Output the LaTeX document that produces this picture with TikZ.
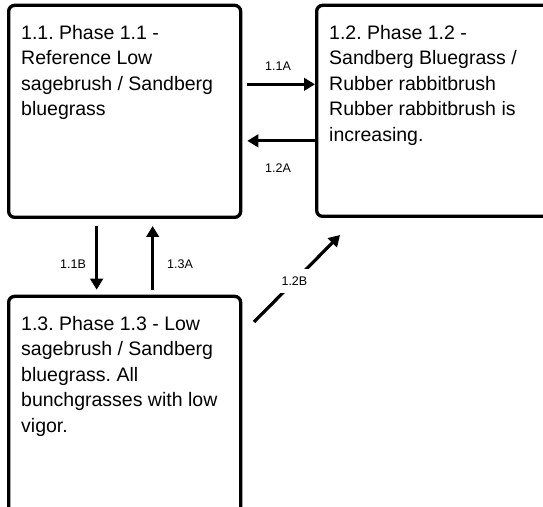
\documentclass[tikz,border=0pt]{standalone}
\usepackage{fontspec}
\setmainfont{Liberation Sans}
\usetikzlibrary{arrows.meta}
\frenchspacing
\begin{document}
\begin{tikzpicture}[x=1pt,y=1pt,
  phasebox/.style={draw=black, line width=3.3pt, rounded corners=6pt, inner sep=0pt},
  phasetext/.style={anchor=north west, inner sep=0pt, align=left, font=\fontsize{19.5}{25.5}\selectfont},
  trans/.style={line width=3.2pt, -{Triangle[length=11pt,width=12.5pt]}},
  tlabel/.style={font=\fontsize{12.5}{13}\selectfont, inner sep=1.5pt}]
\useasboundingbox (0,0) rectangle (543,506);
\clip (0,0) rectangle (543,506);
% boxes
\node[phasebox, minimum width=232pt, minimum height=212pt, anchor=south west] (b1) at (7,287) {};
\node[phasebox, minimum width=250pt, minimum height=211pt, anchor=south west] (b2) at (315,288) {};
\node[phasebox, minimum width=232pt, minimum height=230pt, anchor=south west] (b3) at (7,-22) {};
% texts
\node[phasetext] (t1) at (21,481) {1.1. Phase 1.1 -\\Reference Low\\sagebrush / Sandberg\\bluegrass};
\node[phasetext] (t2) at (329,481) {1.2. Phase 1.2 -\\Sandberg Bluegrass /\\Rubber rabbitbrush\\Rubber rabbitbrush is\\increasing.};
\node[phasetext] (t3) at (21,190) {1.3. Phase 1.3 - Low\\sagebrush / Sandberg\\bluegrass. All\\bunchgrasses with low\\vigor.};
% connector end points
\coordinate (a1s) at ([xshift=5pt,yshift=27pt]b1.east);
\coordinate (a1e) at (b2.west |- a1s);
\coordinate (a2s) at ([yshift=-30pt]b2.west);
\coordinate (a2e) at ([xshift=5pt]b1.east |- a2s);
\coordinate (b1s) at ([xshift=-28pt,yshift=-7pt]b1.south);
\coordinate (b1e) at (b1s |- b3.north);
\coordinate (c1s) at ([xshift=28pt]b3.north);
\coordinate (c1e) at ([yshift=-7pt]c1s |- b1.south);
\coordinate (d1s) at (254,184);
\coordinate (d1e) at (340,271);
% connectors
\draw[trans] (a1s) -- (a1e);
\draw[trans] (a2s) -- (a2e);
\draw[trans] (b1s) -- ([yshift=5pt]b1e);
\draw[trans] ([yshift=5pt]c1s) -- (c1e);
\draw[trans] (d1s) -- (d1e) node[pos=0.47, tlabel, fill=white, inner xsep=3pt, inner ysep=8pt] (l5) {1.2B};
% labels
\node[tlabel] (l1) at (278,440) {1.1A};
\node[tlabel] (l2) at (278,338) {1.2A};
\node[tlabel] (l3) at (73,242) {1.1B};
\node[tlabel] (l4) at (180,242) {1.3A};
\end{tikzpicture}
\end{document}
